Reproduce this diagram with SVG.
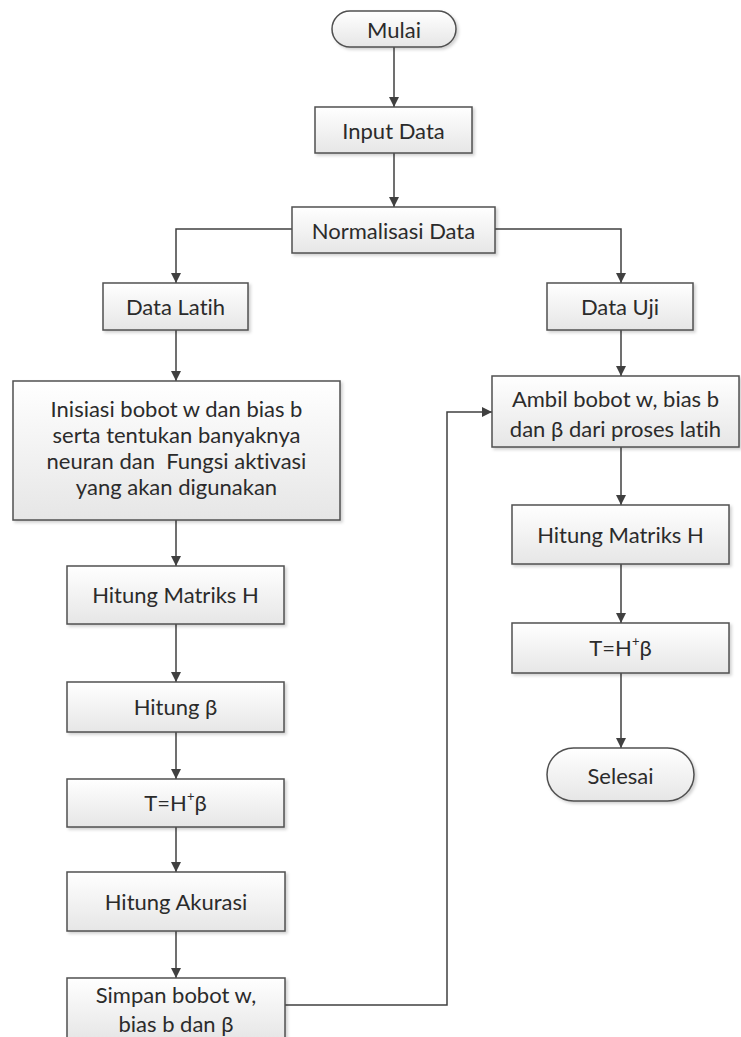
<svg xmlns="http://www.w3.org/2000/svg" width="741" height="1037" viewBox="0 0 741 1037">
  <defs>
    <linearGradient id="boxFill" x1="0" y1="0" x2="0" y2="1">
      <stop offset="0" stop-color="#ffffff"/>
      <stop offset="1" stop-color="#e6e6e6"/>
    </linearGradient>
    <filter id="shadow" x="-10%" y="-10%" width="125%" height="130%">
      <feDropShadow dx="2" dy="2" stdDeviation="1.5" flood-color="#000" flood-opacity="0.18"/>
    </filter>
    <marker id="arrow" viewBox="0 0 10 10" refX="10" refY="5" markerWidth="10" markerHeight="10" markerUnits="userSpaceOnUse" orient="auto">
      <path d="M0,0 L10,5 L0,10 z" fill="#404040"/>
    </marker>
  </defs>
  <style>
    .box { fill: url(#boxFill); stroke: #505050; stroke-width: 1.5; filter: url(#shadow); }
    .lbl { font-family: Lato, "Liberation Sans", sans-serif; font-size: 22px; fill: #2b2b2b; text-anchor: middle; dominant-baseline: central; font-variant-ligatures: none; }
    .sup { font-size: 13px; }
    .edge { fill: none; stroke: #404040; stroke-width: 1.5; marker-end: url(#arrow); }
  </style>
  <rect width="741" height="1037" fill="#ffffff"/>

  <g id="connectors">
    <path class="edge" d="M394,47 L394,107"/>
    <path class="edge" d="M394,153 L394,207"/>
    <path class="edge" d="M292,229 L176,229 L176,283"/>
    <path class="edge" d="M495,229 L621,229 L621,283"/>
    <path class="edge" d="M176,330 L176,381"/>
    <path class="edge" d="M621,330 L621,376"/>
    <path class="edge" d="M176,520 L176,566"/>
    <path class="edge" d="M176,624 L176,682"/>
    <path class="edge" d="M176,732 L176,779"/>
    <path class="edge" d="M176,827 L176,872"/>
    <path class="edge" d="M176,931 L176,978"/>
    <path class="edge" d="M285,1005 L447,1005 L447,412 L492,412"/>
    <path class="edge" d="M621,447 L621,505"/>
    <path class="edge" d="M621,564 L621,623"/>
    <path class="edge" d="M621,673 L621,748"/>
  </g>

  <g id="mulai">
    <rect class="box" x="332" y="11" width="124" height="36" rx="18" ry="18"/>
    <text class="lbl" x="394" y="29">Mulai</text>
  </g>
  <g id="input-data">
    <rect class="box" x="315" y="107" width="157" height="46"/>
    <text class="lbl" x="393.5" y="130">Input Data</text>
  </g>
  <g id="normalisasi-data">
    <rect class="box" x="292" y="207" width="203" height="46"/>
    <text class="lbl" x="393.5" y="230">Normalisasi Data</text>
  </g>
  <g id="data-latih">
    <rect class="box" x="103" y="283" width="145" height="47"/>
    <text class="lbl" x="175.5" y="306">Data Latih</text>
  </g>
  <g id="data-uji">
    <rect class="box" x="547" y="283" width="146" height="47"/>
    <text class="lbl" x="620" y="306">Data Uji</text>
  </g>
  <g id="inisiasi">
    <rect class="box" x="13" y="381" width="327" height="139"/>
    <text class="lbl" x="176.5" y="408">Inisiasi bobot w dan bias b</text>
    <text class="lbl" x="176.5" y="434">serta tentukan banyaknya</text>
    <text class="lbl" x="176.5" y="460" xml:space="preserve">neuran dan  Fungsi aktivasi</text>
    <text class="lbl" x="176.5" y="486">yang akan digunakan</text>
  </g>
  <g id="hitung-matriks-h-latih">
    <rect class="box" x="67" y="566" width="217" height="58"/>
    <text class="lbl" x="175.5" y="594">Hitung Matriks H</text>
  </g>
  <g id="hitung-beta">
    <rect class="box" x="67" y="682" width="217" height="50"/>
    <text class="lbl" x="175.5" y="706">Hitung β</text>
  </g>
  <g id="t-latih">
    <rect class="box" x="67" y="779" width="217" height="48"/>
    <text class="lbl" x="175.5" y="802">T=H<tspan class="sup" dy="-6">+</tspan><tspan dy="6">β</tspan></text>
  </g>
  <g id="hitung-akurasi">
    <rect class="box" x="67" y="872" width="218" height="59"/>
    <text class="lbl" x="176" y="901">Hitung Akurasi</text>
  </g>
  <g id="simpan">
    <rect class="box" x="67" y="978" width="218" height="62"/>
    <text class="lbl" x="176" y="994">Simpan bobot w,</text>
    <text class="lbl" x="176" y="1023">bias b dan β</text>
  </g>
  <g id="ambil">
    <rect class="box" x="492" y="376" width="247" height="71"/>
    <text class="lbl" x="615.5" y="398">Ambil bobot w, bias b</text>
    <text class="lbl" x="615.5" y="428">dan β dari proses latih</text>
  </g>
  <g id="hitung-matriks-h-uji">
    <rect class="box" x="512" y="505" width="217" height="59"/>
    <text class="lbl" x="620.5" y="534">Hitung Matriks H</text>
  </g>
  <g id="t-uji">
    <rect class="box" x="512" y="623" width="217" height="50"/>
    <text class="lbl" x="620.5" y="647">T=H<tspan class="sup" dy="-6">+</tspan><tspan dy="6">β</tspan></text>
  </g>
  <g id="selesai">
    <rect class="box" x="547" y="748" width="147" height="53" rx="26.5" ry="26.5"/>
    <text class="lbl" x="620.5" y="775">Selesai</text>
  </g>
</svg>
